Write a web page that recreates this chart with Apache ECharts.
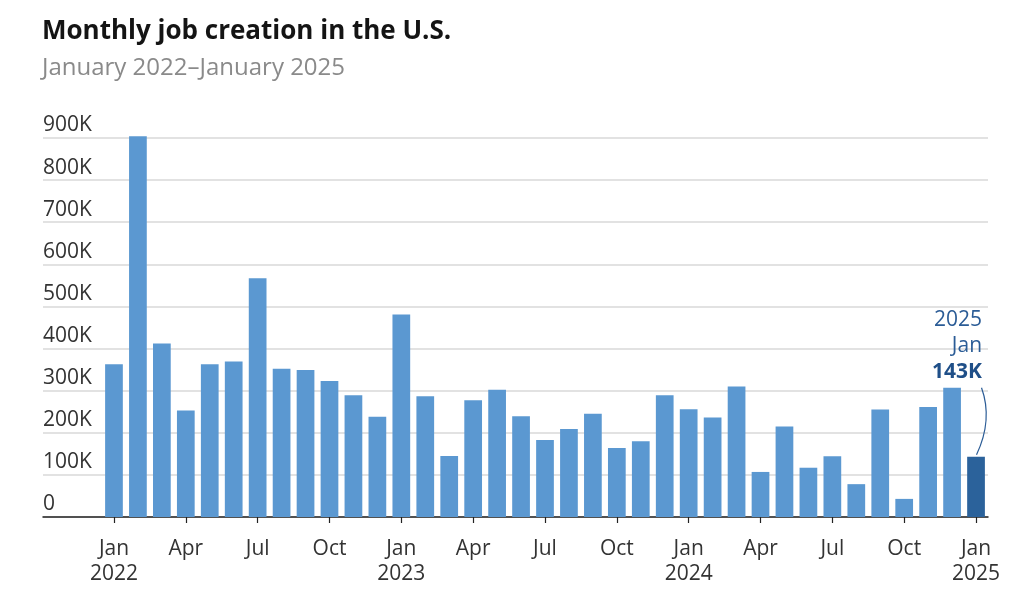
<!DOCTYPE html>
<html>
<head>
<meta charset="utf-8">
<script src="https://cdn.jsdelivr.net/npm/echarts@6/dist/echarts.min.js"></script>
<style>
html,body{margin:0;padding:0;background:#fff;}
#chart{width:1024px;height:603px;}
</style>
</head>
<body>
<div id="chart"></div>
<script>
const titleText = 'Monthly job creation in the U.S.';
const subtitleText = 'January 2022\u2013January 2025';
const monthNames = ['Jan','Feb','Mar','Apr','May','Jun','Jul','Aug','Sep','Oct','Nov','Dec'];
const categories = [
  'Jan 2022','Feb 2022','Mar 2022','Apr 2022','May 2022','Jun 2022','Jul 2022','Aug 2022','Sep 2022','Oct 2022','Nov 2022','Dec 2022',
  'Jan 2023','Feb 2023','Mar 2023','Apr 2023','May 2023','Jun 2023','Jul 2023','Aug 2023','Sep 2023','Oct 2023','Nov 2023','Dec 2023',
  'Jan 2024','Feb 2024','Mar 2024','Apr 2024','May 2024','Jun 2024','Jul 2024','Aug 2024','Sep 2024','Oct 2024','Nov 2024','Dec 2024',
  'Jan 2025'
];
// jobs added, thousands
const jobs = [
  363, 904, 412, 253, 363, 369, 567, 352, 349, 323, 289, 238,
  481, 287, 145, 277, 302, 239, 183, 209, 245, 164, 180, 289,
  256, 236, 310, 107, 215, 117, 144, 78, 255, 43, 261, 307,
  143
];
const yTicks = [0, 100, 200, 300, 400, 500, 600, 700, 800, 900];

const FONT = '"Open Sans", "Noto Sans", sans-serif';
const lastIdx = jobs.length - 1;
const lastParts = categories[lastIdx].split(' ');

const barData = jobs.map((v, i) => {
  if (i !== lastIdx) return v;
  return {
    value: v,
    itemStyle: { color: '#2b629b' },
    label: {
      show: true,
      position: 'top',
      distance: 0,
      offset: [6, -72],
      align: 'right',
      formatter: '{a|' + lastParts[1] + '}\n{a|' + lastParts[0] + '}\n{b|' + v + 'K}',
      rich: {
        a: { fontFamily: FONT, fontSize: 21, color: '#2b5c96', align: 'right', lineHeight: 26 },
        b: { fontFamily: FONT, fontSize: 21, fontWeight: 'bold', color: '#1f4f88', align: 'right', lineHeight: 26 }
      }
    }
  };
});

const chart = echarts.init(document.getElementById('chart'), null, { renderer: 'canvas' });
chart.setOption({
  animation: false,
  backgroundColor: '#ffffff',
  title: [
    { text: titleText, left: 42, top: 19, padding: 0, textStyle: { fontFamily: FONT, fontSize: 26, fontWeight: 'bold', color: '#141414' } },
    { text: subtitleText, left: 42, top: 56, padding: 0, textStyle: { fontFamily: FONT, fontSize: 24, fontWeight: 'normal', color: '#8a8a8a' } }
  ],
  grid: [
    { left: 43, right: 36, top: 138, bottom: 86 },
    { left: 102, right: 36, top: 138, bottom: 86 }
  ],
  xAxis: [
    {
      type: 'value', gridIndex: 0, min: 0, max: 1,
      axisLine: { show: true, onZero: true, lineStyle: { color: '#222', width: 1.5 } },
      axisTick: { show: false }, axisLabel: { show: false }, splitLine: { show: false }
    },
    {
      type: 'category', gridIndex: 1, data: categories,
      axisLine: { show: false },
      axisTick: { show: true, alignWithLabel: true, interval: 2, length: 6, lineStyle: { color: '#222', width: 1.2 } },
      axisLabel: {
        interval: 2, margin: 20, fontFamily: FONT, fontSize: 21, color: '#333', lineHeight: 25,
        formatter: function (val) {
          const p = val.split(' ');
          return p[0] === monthNames[0] ? p[0] + '\n' + p[1] : p[0];
        }
      }
    }
  ],
  yAxis: [
    {
      type: 'value', gridIndex: 0, min: yTicks[0], max: yTicks[yTicks.length - 1], interval: 100,
      axisLine: { show: false }, axisTick: { show: false },
      splitLine: { show: true, lineStyle: { color: '#d9d9d9', width: 1.5 } },
      axisLabel: {
        inside: true, margin: 0, align: 'left', verticalAlign: 'bottom', padding: [0, 0, 2, 0],
        fontFamily: FONT, fontSize: 21, color: '#333',
        formatter: v => v === 0 ? '0' : v + 'K'
      }
    },
    {
      type: 'value', gridIndex: 1, min: yTicks[0], max: yTicks[yTicks.length - 1], interval: 100, show: false,
      splitLine: { show: false }
    }
  ],
  series: [
    {
      type: 'bar', xAxisIndex: 1, yAxisIndex: 1, data: barData, clip: false,
      barCategoryGap: '26%',
      itemStyle: { color: '#5b98d1' },
      z: 3
    }
  ]
});

// curved connector from the annotation to the top of the last bar, positioned via the axes
const barTop = chart.convertToPixel({ xAxisIndex: 1, yAxisIndex: 1 }, [lastIdx, jobs[lastIdx]]);
chart.setOption({
  graphic: [{
    type: 'bezierCurve',
    z: 10,
    shape: {
      x1: barTop[0] + 5.5, y1: barTop[1] - 69,
      cpx1: barTop[0] + 17, cpy1: barTop[1] - 37,
      x2: barTop[0] + 0.5, y2: barTop[1] - 2
    },
    style: { stroke: '#2b5c96', lineWidth: 1.2, fill: null }
  }]
});
</script>
</body>
</html>
